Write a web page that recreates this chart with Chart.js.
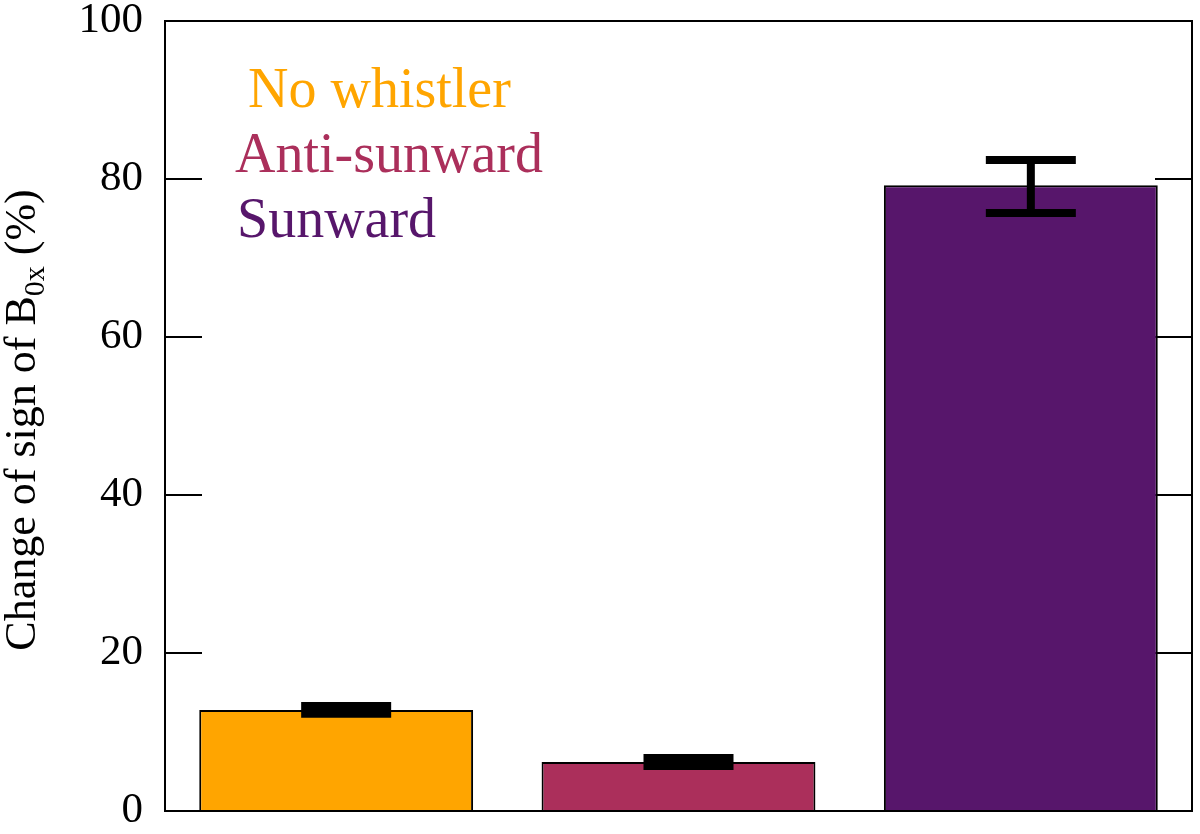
<!DOCTYPE html>
<html>
<head>
<meta charset="utf-8">
<script src="https://cdn.jsdelivr.net/npm/chart.js@4.4.1/dist/chart.umd.min.js"></script>
<style>
html,body{margin:0;padding:0;background:#fff;}
#wrap{width:1200px;height:834px;position:relative;}
</style>
</head>
<body>
<div id="wrap"><canvas id="c" width="1200" height="834"></canvas></div>
<script>
// ---- data ----
const categories = ["No whistler", "Anti-sunward", "Sunward"];
const values = [12.8, 6.2, 79.2];
const errLow = [12.3, 5.7, 75.7];
const errHigh = [13.3, 6.7, 82.4];
const barColors = ["#FFA500", "#AB2F5B", "#57166B"];
const yTicks = [0, 20, 40, 60, 80, 100];
const yTitleMain = "Change of sign of B";
const yTitleSub = "0x";
const yTitleTail = " (%)";

const SERIF = '"Liberation Serif", "DejaVu Serif", serif';

const framePlugin = {
  id: 'frame',
  beforeDatasetsDraw(chart) {
    const {ctx, chartArea: a, scales: {y}} = chart;
    ctx.save();
    ctx.strokeStyle = '#000';
    ctx.lineWidth = 2;
    y.ticks.forEach(t => {
      const py = Math.round(y.getPixelForValue(t.value));
      ctx.beginPath();
      ctx.moveTo(a.left, py); ctx.lineTo(a.left + 37, py);
      ctx.moveTo(a.right, py); ctx.lineTo(a.right - 37, py);
      ctx.stroke();
    });
    ctx.restore();
  },
  afterDatasetsDraw(chart) {
    const {ctx, chartArea: a, scales: {x, y}} = chart;
    ctx.save();
    // error bars
    ctx.strokeStyle = '#000';
    ctx.lineWidth = 8;
    ctx.lineCap = 'butt';
    categories.forEach((c, i) => {
      const px = x.getPixelForValue(i) + 10;
      const yl = y.getPixelForValue(errLow[i]);
      const yh = y.getPixelForValue(errHigh[i]);
      ctx.beginPath();
      ctx.moveTo(px - 45, yh); ctx.lineTo(px + 45, yh);
      ctx.moveTo(px - 45, yl); ctx.lineTo(px + 45, yl);
      ctx.moveTo(px, yh); ctx.lineTo(px, yl);
      ctx.stroke();
    });
    // frame
    ctx.lineWidth = 2;
    ctx.strokeRect(a.left, a.top, a.right - a.left, a.bottom - a.top);
    // legend text
    ctx.font = '56px ' + SERIF;
    ctx.textBaseline = 'alphabetic';
    ctx.textAlign = 'left';
    const lx = [a.left + 83, a.left + 70, a.left + 72];
    categories.forEach((c, i) => {
      ctx.fillStyle = barColors[i];
      ctx.fillText(c, lx[i], a.top + 86 + i * 65);
    });
    // y axis title with subscript
    ctx.translate(35, (a.top + a.bottom) / 2 + 4);
    ctx.rotate(-Math.PI / 2);
    ctx.fillStyle = '#000';
    const fMain = '44px ' + SERIF, fSub = '30px ' + SERIF;
    ctx.font = fMain; const w1 = ctx.measureText(yTitleMain).width;
    const w3 = ctx.measureText(yTitleTail).width;
    ctx.font = fSub; const w2 = ctx.measureText(yTitleSub).width;
    let sx = -(w1 + w2 + w3) / 2;
    ctx.font = fMain; ctx.fillText(yTitleMain, sx, 0); sx += w1;
    ctx.font = fSub; ctx.fillText(yTitleSub, sx, 9); sx += w2;
    ctx.font = fMain; ctx.fillText(yTitleTail, sx, 0);
    ctx.restore();
  }
};

new Chart(document.getElementById('c'), {
  type: 'bar',
  data: {
    labels: categories,
    datasets: [{
      data: values,
      backgroundColor: barColors,
      borderColor: '#000',
      borderWidth: 2,
      barPercentage: 0.8,
      categoryPercentage: 1.0
    }]
  },
  options: {
    responsive: false,
    animation: false,
    devicePixelRatio: 1,
    layout: { padding: { left: 0, right: 8, top: 21, bottom: 23 } },
    plugins: { legend: { display: false }, tooltip: { enabled: false } },
    scales: {
      x: { display: false, offset: true },
      y: {
        min: 0, max: 100,
        afterFit(scale) { scale.width = 165; scale.paddingTop = 0; scale.paddingBottom = 0; },
        afterBuildTicks(scale) { scale.ticks = yTicks.map(v => ({ value: v })); },
        grid: { display: false, drawTicks: false },
        border: { display: false },
        ticks: {
          padding: 22,
          color: '#000',
          font: { family: SERIF, size: 43 }
        }
      }
    }
  },
  plugins: [framePlugin]
});
</script>
</body>
</html>
